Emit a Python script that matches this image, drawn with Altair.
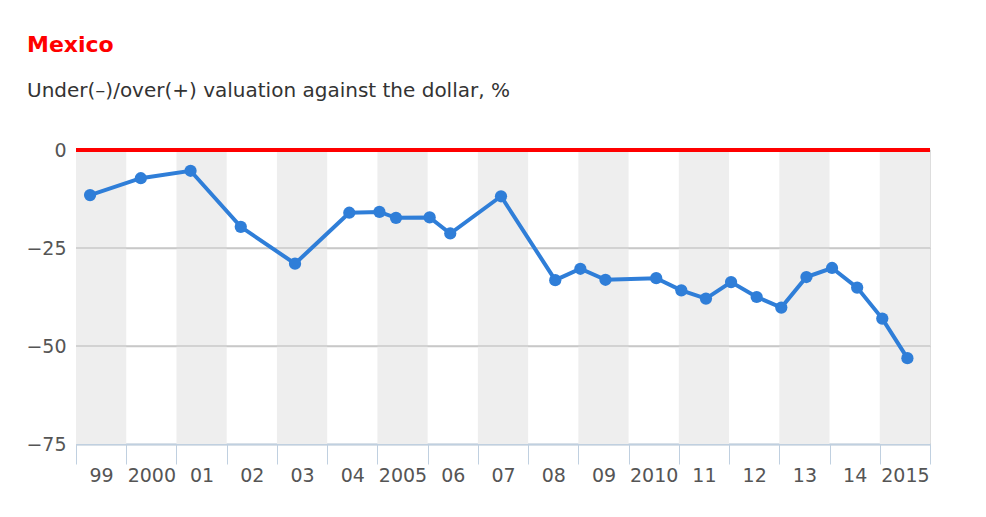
import altair as alt
import pandas as pd

dates = [1999.28, 2000.29, 2001.28, 2002.28, 2003.36, 2004.44, 2005.04, 2005.37,
         2006.04, 2006.45, 2007.46, 2008.54, 2009.04, 2009.54, 2010.55, 2011.05,
         2011.54, 2012.04, 2012.55, 2013.04, 2013.54, 2014.05, 2014.55, 2015.05,
         2015.55]
values = [-11.5, -7.2, -5.3, -19.6, -29.0, -16.0, -15.8, -17.3,
          -17.2, -21.3, -11.8, -33.2, -30.3, -33.1, -32.7, -35.8,
          -37.9, -33.7, -37.5, -40.2, -32.4, -30.1, -35.1, -43.0,
          -53.1]
band_years = [1999, 2001, 2003, 2005, 2007, 2009, 2011, 2013, 2015]
tick_years = list(range(1999, 2017))
y_ticks = [-75, -50, -25, 0]

W, H = 854, 294
band_px = W / 17
FONT = "DejaVu Sans"

df = pd.DataFrame({"date": dates, "value": values})
bands = pd.DataFrame({"start": band_years, "end": [y + 1 for y in band_years]})

xscale = alt.Scale(domain=[1999, 2016], nice=False, zero=False)
yscale = alt.Scale(domain=[-75, 0], nice=False)

label_expr = ("datum.value == 2016 ? '' : (datum.value == 2000 || datum.value == 2005 || "
              "datum.value == 2010 || datum.value == 2015) ? '' + datum.value : "
              "slice('' + datum.value, 2)")

xaxis = alt.Axis(values=tick_years, labelExpr=label_expr, labelOffset=band_px / 2,
                 tickSize=20, tickColor="#c0d0e0", domainColor="#c0d0e0",
                 domainWidth=2, labelPadding=2, labelFontSize=19, labelColor="#555555",
                 labelFont=FONT, grid=False, title=None, labelBaseline="top",
                 labelOverlap=False, labelFlush=False, labelAlign="center")
yaxis = alt.Axis(values=y_ticks, domain=False, ticks=False, labelFontSize=19,
                 labelColor="#555555", labelFont=FONT, labelPadding=10,
                 grid=True, gridColor="#c8c8c8", gridWidth=1.5, title=None)

band_layer = alt.Chart(bands).mark_rect(color="#eeeeee").encode(
    x=alt.X("start:Q", scale=xscale, axis=xaxis),
    x2="end:Q",
    y=alt.Y("top:Q", scale=yscale, axis=yaxis),
    y2="bottom:Q",
).transform_calculate(top="0", bottom="-75")

grid_layer = alt.Chart(pd.DataFrame({"g": [-25, -50]})).mark_rule(
    color="#c8c8c8", strokeWidth=1.5).encode(
    y=alt.Y("g:Q", scale=yscale),
)

zero_layer = alt.Chart(pd.DataFrame({"z": [0]})).mark_rule(
    color="#ff0000", strokeWidth=4).encode(
    y=alt.Y("z:Q", scale=yscale),
)

line_layer = alt.Chart(df).mark_line(color="#2f7ed8", strokeWidth=4).encode(
    x=alt.X("date:Q", scale=xscale),
    y=alt.Y("value:Q", scale=yscale),
)
point_layer = alt.Chart(df).mark_circle(color="#2f7ed8", size=150, opacity=1).encode(
    x=alt.X("date:Q", scale=xscale),
    y=alt.Y("value:Q", scale=yscale),
)

chart = alt.layer(band_layer, grid_layer, zero_layer, line_layer, point_layer).properties(
    width=W, height=H,
    autosize=alt.AutoSizeParams(type="none"),
    padding={"left": 68, "top": 142, "right": 48, "bottom": 65},
    title=alt.TitleParams(
        text="Mexico",
        subtitle="Under(–)/over(+) valuation against the dollar, %",
        anchor="start", frame="group", dx=-49, offset=39,
        font=FONT, fontSize=22, fontWeight="bold", color="#ff0000",
        subtitleFont=FONT, subtitleFontSize=20, subtitleColor="#333333",
        subtitlePadding=24,
    ),
).configure_view(stroke=None).configure(background="white")

chart.save("out.html", embed_options={"renderer": "svg", "actions": False})
